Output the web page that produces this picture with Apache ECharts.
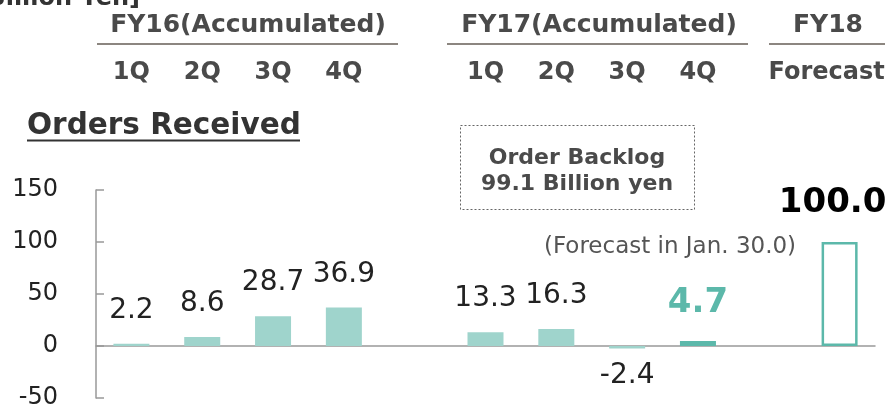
<!DOCTYPE html>
<html>
<head>
<meta charset="utf-8">
<script src="https://cdn.jsdelivr.net/npm/echarts@6/dist/echarts.min.js"></script>
<style>
  html, body { margin: 0; padding: 0; background: #fff; }
  #chart { width: 891px; height: 408px; }
</style>
</head>
<body>
<div id="chart"></div>
<script>
// data
const categories = ['FY16 1Q', 'FY16 2Q', 'FY16 3Q', 'FY16 4Q', 'gap1', 'FY17 1Q', 'FY17 2Q', 'FY17 3Q', 'FY17 4Q', 'gap2', 'FY18'];
const quarterLabels = ['1Q', '2Q', '3Q', '4Q', '', '1Q', '2Q', '3Q', '4Q', '', 'Forecast'];
const orders = [2.2, 8.6, 28.7, 36.9, null, 13.3, 16.3, -2.4, 4.7, null, 100.0];
const yTicks = [-50, 0, 50, 100, 150];

const FONT = '"DejaVu Sans", Verdana, sans-serif';
const LIGHT = '#9fd4cc';
const DARK = '#5cb8aa';
const latestIdx = 8;
const forecastIdx = 10;

const chart = echarts.init(document.getElementById('chart'));

const barData = orders.map((v, i) => {
    if (v === null) return '-';
    const item = { value: v, itemStyle: { color: LIGHT } };
    if (i === latestIdx) {
        item.itemStyle = { color: DARK };
        item.label = { fontSize: 34, fontWeight: 'bold', color: DARK, distance: 21 };
    } else if (i === forecastIdx) {
        item.itemStyle = { color: '#fff', borderColor: DARK, borderWidth: 2.5 };
        item.label = { fontSize: 34, fontWeight: 'bold', color: '#000', distance: 22, offset: [-7, 0] };
    } else if (v < 0) {
        item.label = { position: 'bottom', distance: 13 };
    }
    return item;
});

const topLabels = quarterLabels.map((q, i) => {
    if (i === forecastIdx) return { value: q, textStyle: { padding: [0, 26, 0, 0] } };
    return q;
});

const option = {
    animation: false,
    grid: { left: 96, right: 16, top: 190, bottom: 10, outerBoundsMode: 'none' },
    xAxis: [
        {
            type: 'category',
            data: categories,
            axisLine: { onZero: true, lineStyle: { color: '#999', width: 1.5 } },
            axisTick: { show: false },
            axisLabel: { show: false }
        },
        {
            type: 'category',
            position: 'top',
            data: topLabels,
            offset: 97,
            axisLine: { show: false },
            axisTick: { show: false },
            axisLabel: {
                margin: 8,
                interval: 0,
                color: '#4a4a4a',
                fontFamily: FONT,
                fontSize: 24,
                fontWeight: 'bold'
            }
        }
    ],
    yAxis: {
        type: 'value',
        min: yTicks[0],
        max: yTicks[yTicks.length - 1],
        interval: yTicks[1] - yTicks[0],
        axisLine: { show: true, lineStyle: { color: '#999', width: 1.5 } },
        axisTick: { show: true, inside: true, length: 8, lineStyle: { color: '#999', width: 1.5 } },
        splitLine: { show: false },
        axisLabel: { margin: 38, color: '#222', fontFamily: FONT, fontSize: 24 }
    },
    series: [
        {
            type: 'bar',
            xAxisIndex: 0,
            data: barData,
            barWidth: 36,
            label: {
                show: true,
                position: 'top',
                distance: 19,
                color: '#222',
                fontFamily: FONT,
                fontSize: 28,
                formatter: p => p.value.toFixed(1)
            }
        }
    ],
    graphic: [
        { type: 'text', right: 891 - 140, top: -13, style: { text: '[Billion Yen]', font: 'bold 24px ' + FONT, fill: '#333' } },
        // group headers
        { type: 'text', x: 248, y: 25, style: { text: 'FY16(Accumulated)', font: 'bold 25px ' + FONT, fill: '#4a4a4a', align: 'center', verticalAlign: 'middle' } },
        { type: 'line', shape: { x1: 97, y1: 44, x2: 398, y2: 44 }, style: { stroke: '#8c8680', lineWidth: 2 } },
        { type: 'text', x: 599, y: 25, style: { text: 'FY17(Accumulated)', font: 'bold 25px ' + FONT, fill: '#4a4a4a', align: 'center', verticalAlign: 'middle' } },
        { type: 'line', shape: { x1: 447, y1: 44, x2: 748, y2: 44 }, style: { stroke: '#8c8680', lineWidth: 2 } },
        { type: 'text', x: 828, y: 25, style: { text: 'FY18', font: 'bold 25px ' + FONT, fill: '#4a4a4a', align: 'center', verticalAlign: 'middle' } },
        { type: 'line', shape: { x1: 769, y1: 44, x2: 885, y2: 44 }, style: { stroke: '#8c8680', lineWidth: 2 } },
        // title
        { type: 'text', x: 27, y: 126, style: { text: 'Orders Received', font: 'bold 29.5px ' + FONT, fill: '#333', verticalAlign: 'middle' } },
        { type: 'line', shape: { x1: 27, y1: 140.5, x2: 300, y2: 140.5 }, style: { stroke: '#333', lineWidth: 2 } },
        // backlog box
        { type: 'rect', shape: { x: 460.5, y: 125.5, width: 234, height: 84 }, style: { fill: 'none', stroke: '#666', lineWidth: 1, lineDash: [2, 2] } },
        { type: 'text', x: 577, y: 158, style: { text: 'Order Backlog', font: 'bold 22px ' + FONT, fill: '#4a4a4a', align: 'center', verticalAlign: 'middle' } },
        { type: 'text', x: 577, y: 184, style: { text: '99.1 Billion yen', font: 'bold 22px ' + FONT, fill: '#4a4a4a', align: 'center', verticalAlign: 'middle' } },
        // previous forecast note
        { type: 'text', x: 670, y: 247, style: { text: '(Forecast in Jan. 30.0)', font: '23px ' + FONT, fill: '#555', align: 'center', verticalAlign: 'middle' } }
    ]
};

chart.setOption(option);
window.addEventListener('resize', () => chart.resize());
</script>
</body>
</html>
